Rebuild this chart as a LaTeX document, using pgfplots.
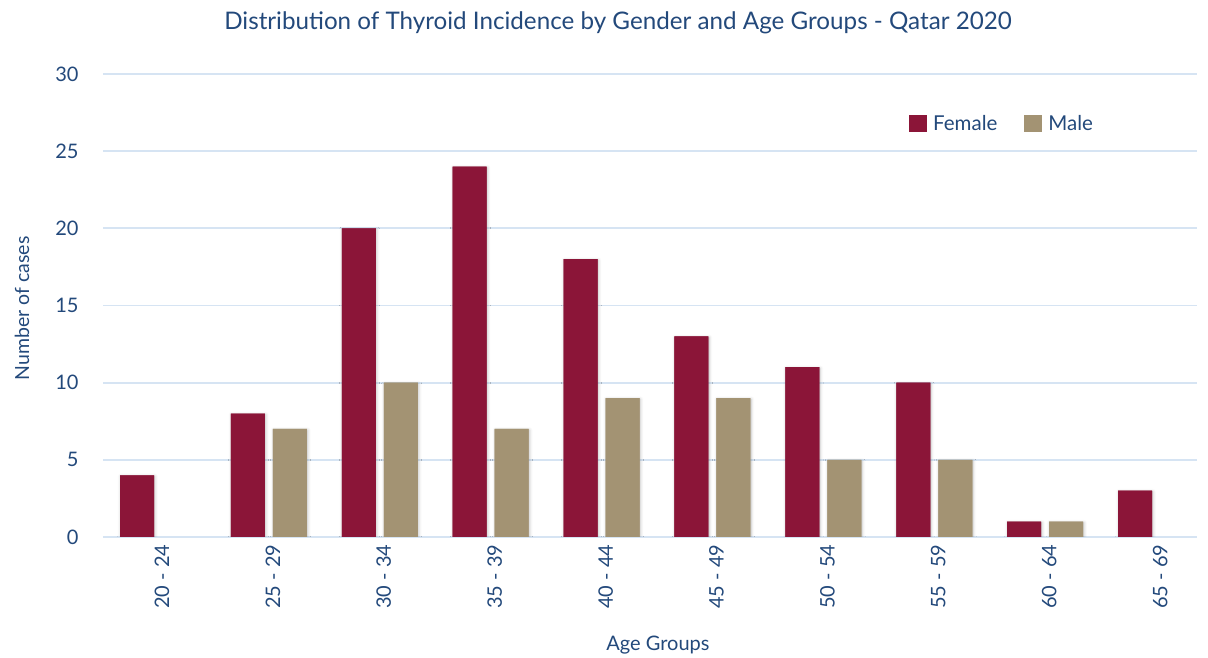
\documentclass[border=0pt]{standalone}
\usepackage{pgfplots}
\pgfplotsset{compat=1.18}
\usetikzlibrary{shadows.blur}
\usepackage{fontspec}
\setmainfont{Lato}
\definecolor{txt}{HTML}{23497B}
\definecolor{fem}{HTML}{8B1538}
\definecolor{mal}{HTML}{A39373}
\definecolor{grid}{HTML}{D6E4F3}
\begin{document}
\begin{tikzpicture}
\begin{axis}[
  name=ax,
  scale only axis,
  width=1094pt, height=463pt,
  ymin=0, ymax=30, ytick={0,5,...,30},
  xmin=-0.496, xmax=9.369,
  xtick={0,...,9},
  xticklabels={20 - 24,25 - 29,30 - 34,35 - 39,40 - 44,45 - 49,50 - 54,55 - 59,60 - 64,65 - 69},
  axis line style={draw=none},
  tick style={draw=none},
  ymajorgrids,
  grid style={color=grid, line width=1.8pt},
  ybar, bar width=34pt,
  /pgf/number format/assume math mode=true,
  tick label style={font=\fontsize{20}{23}\selectfont, text=txt},
  yticklabel style={anchor=east, xshift=-21pt},
  xticklabel style={rotate=90, anchor=east, yshift=-4pt},
  legend style={at={(0.734,0.892)}, anchor=west, draw=none, fill=none,
    legend columns=2, font=\fontsize{20.5}{23}\selectfont, text=txt,
    /tikz/every even column/.append style={column sep=25pt}},
  legend image code/.code={\fill[#1] (0pt,-8.5pt) rectangle (18pt,8.5pt); \path (22pt,0pt);},
]
\addlegendimage{fill=fem, draw=none}
\addlegendimage{fill=mal, draw=none}
\addplot[forget plot, bar shift=-21pt, fill=fem, draw=none,
  preaction={blur shadow={shadow xshift=0.8pt, shadow yshift=-1.2pt, shadow blur radius=3pt, shadow opacity=25}}]
  coordinates {(0,4) (1,8) (2,20) (3,24) (4,18) (5,13) (6,11) (7,10) (8,1) (9,3)};
\addplot[forget plot, bar shift=21pt, fill=mal, draw=none,
  preaction={blur shadow={shadow xshift=0.8pt, shadow yshift=-1.2pt, shadow blur radius=3pt, shadow opacity=25}}]
  coordinates {(1,7) (2,10) (3,7) (4,9) (5,9) (6,5) (7,5) (8,1)};
\legend{Female, Male}
\end{axis}
\node[anchor=base, text=txt, font=\fontsize{24.2}{27}\selectfont] at ([xshift=-32pt,yshift=44pt]ax.north) {Distribution of Thyroid Incidence by Gender and Age Groups - Qatar 2020};
\node[rotate=90, text=txt, font=\fontsize{19.5}{22}\selectfont] at ([xshift=-81pt,yshift=-3pt]ax.west) {Number of cases};
\node[text=txt, font=\fontsize{20}{23}\selectfont] at ([xshift=8pt,yshift=-108pt]ax.south) {Age Groups};
\pgfresetboundingbox
\path[use as bounding box] ([shift={(-103pt,-121pt)}]ax.south west) rectangle ([shift={(11pt,74pt)}]ax.north east);
\end{tikzpicture}
\end{document}
